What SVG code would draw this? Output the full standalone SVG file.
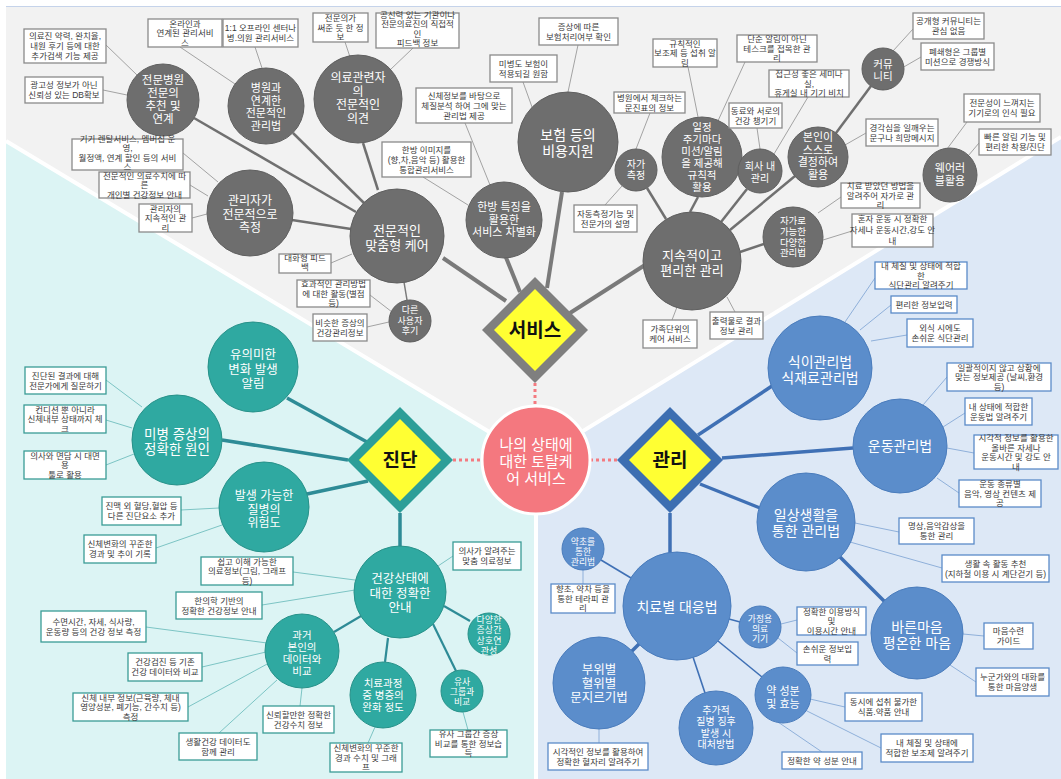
<svg xmlns="http://www.w3.org/2000/svg" width="1061" height="779" viewBox="0 0 1061 779">
<defs>
<style>
text{font-family:"Liberation Sans","Noto Sans CJK KR",sans-serif;text-anchor:middle}
.bt{font-size:8.5px;fill:#3a3a3a}
.nt{fill:#ffffff}
.gb{fill:#ffffff;stroke:#8a8a8a;stroke-width:1.3}
.tb{fill:#ffffff;stroke:#3a9c96;stroke-width:1.3}
.bb{fill:#ffffff;stroke:#5b8bc8;stroke-width:1.3}
.gn{fill:#6e6e6e;stroke:#5f5f5f;stroke-width:1}
.tn{fill:#2fa9a1;stroke:#279189;stroke-width:1}
.bn{fill:#5b8dcb;stroke:#4a7cbc;stroke-width:1}
.c{fill:none}
.gk{stroke:#7a7a7a;stroke-width:4}
.gm{stroke:#707070;stroke-width:2.5}
.gs{stroke:#7a7a7a;stroke-width:1.5}
.gt{stroke:#a3a3a3;stroke-width:1}
.tk{stroke:#2e8b96;stroke-width:3.5}
.tm{stroke:#2e8b96;stroke-width:2.2}
.tt{stroke:#7cc4c4;stroke-width:1}
.lk{stroke:#3f70b5;stroke-width:3.5}
.lm{stroke:#3f70b5;stroke-width:1.6}
.lt{stroke:#8fb0da;stroke-width:1}
.pd{stroke:#f47a80;stroke-width:3;stroke-dasharray:3 3}
.dl{font-size:19px;font-weight:bold;fill:#111}
</style>
</defs>
<g id="background">
<rect x="0" y="0" width="1061" height="779" fill="#ffffff"/>
<polygon points="6,7 1061,7 1061,137 536,460 6,141" fill="#f2f2f2"/>
<polygon points="6,141 536,460 536,779 6,779" fill="#dcf4f4"/>
<polygon points="1061,137 536,460 536,779 1061,779" fill="#dde8f6"/>
<polyline points="6,141 536,460 1061,137" fill="none" stroke="#ffffff" stroke-width="4"/>
<line x1="536" y1="460" x2="536" y2="779" stroke="#ffffff" stroke-width="4"/>
<line x1="6" y1="6.5" x2="1061" y2="6.5" stroke="#c5d3ea" stroke-width="1"/>
</g>
<g id="connectors" class="c">
<line class="pd" x1="535" y1="383" x2="535" y2="406"/>
<line class="pd" x1="453" y1="460" x2="482" y2="460"/>
<line class="pd" x1="590" y1="460" x2="617" y2="460"/>
<line class="gk" x1="443" y1="258" x2="506" y2="301"/>
<line class="gk" x1="505" y1="255" x2="520" y2="292"/>
<line class="gk" x1="562" y1="192" x2="547" y2="288"/>
<line class="gk" x1="570" y1="313" x2="645" y2="265"/>
<line class="gm" x1="363" y1="143" x2="378" y2="190"/>
<line class="gm" x1="293" y1="133" x2="364" y2="203"/>
<line class="gm" x1="292" y1="220" x2="351" y2="229"/>
<line class="gm" x1="194" y1="118" x2="356" y2="212"/>
<line class="gs" x1="404" y1="282" x2="407" y2="300"/>
<line class="gm" x1="647" y1="188" x2="666" y2="219"/>
<line class="gm" x1="698" y1="197" x2="690" y2="212"/>
<line class="gm" x1="747" y1="189" x2="721" y2="222"/>
<line class="gm" x1="795" y1="176" x2="730" y2="230"/>
<line class="gm" x1="764" y1="244" x2="740" y2="252"/>
<line class="gm" x1="836" y1="133" x2="871" y2="86"/>
<line class="gt" x1="106" y1="45" x2="137" y2="75"/>
<line class="gt" x1="103" y1="90" x2="127" y2="95"/>
<line class="gt" x1="180" y1="47" x2="235" y2="84"/>
<line class="gt" x1="255" y1="47" x2="262" y2="68"/>
<line class="gt" x1="345" y1="42" x2="350" y2="57"/>
<line class="gt" x1="413" y1="48" x2="390" y2="70"/>
<line class="gt" x1="523" y1="82" x2="532" y2="107"/>
<line class="gt" x1="578" y1="45" x2="568" y2="92"/>
<line class="gt" x1="465" y1="123" x2="490" y2="185"/>
<line class="gt" x1="423" y1="177" x2="468" y2="205"/>
<line class="gt" x1="183" y1="153" x2="218" y2="182"/>
<line class="gt" x1="190" y1="185" x2="208" y2="196"/>
<line class="gt" x1="192" y1="218" x2="207" y2="214"/>
<line class="gt" x1="331" y1="263" x2="352" y2="254"/>
<line class="gt" x1="370" y1="295" x2="392" y2="312"/>
<line class="gt" x1="367" y1="327" x2="389" y2="322"/>
<line class="gt" x1="650" y1="113" x2="636" y2="149"/>
<line class="gt" x1="605" y1="205" x2="622" y2="186"/>
<line class="gt" x1="688" y1="67" x2="698" y2="117"/>
<line class="gt" x1="745" y1="62" x2="717" y2="123"/>
<line class="gt" x1="808" y1="97" x2="774" y2="154"/>
<line class="gt" x1="757" y1="128" x2="760" y2="149"/>
<line class="gt" x1="913" y1="29" x2="893" y2="51"/>
<line class="gt" x1="921" y1="57" x2="902" y2="68"/>
<line class="gt" x1="967" y1="122" x2="947" y2="149"/>
<line class="gt" x1="979" y1="143" x2="968" y2="156"/>
<line class="gt" x1="866" y1="133" x2="845" y2="145"/>
<line class="gt" x1="841" y1="197" x2="818" y2="213"/>
<line class="gt" x1="852" y1="231" x2="823" y2="240"/>
<line class="gt" x1="672" y1="320" x2="677" y2="307"/>
<line class="gt" x1="735" y1="312" x2="727" y2="297"/>
<line class="tk" x1="287" y1="398" x2="367" y2="442"/>
<line class="tk" x1="222" y1="440" x2="348" y2="460"/>
<line class="tk" x1="307" y1="494" x2="368" y2="481"/>
<line class="tk" x1="400" y1="513" x2="400" y2="546"/>
<line class="tm" x1="361" y1="616" x2="334" y2="632"/>
<line class="tm" x1="388" y1="638" x2="385" y2="662"/>
<line class="tm" x1="433" y1="624" x2="456" y2="671"/>
<line class="tm" x1="444" y1="606" x2="470" y2="621"/>
<line class="tt" x1="106" y1="380" x2="142" y2="407"/>
<line class="tt" x1="106" y1="420" x2="132" y2="428"/>
<line class="tt" x1="106" y1="465" x2="134" y2="454"/>
<line class="tt" x1="181" y1="510" x2="219" y2="508"/>
<line class="tt" x1="156" y1="548" x2="222" y2="525"/>
<line class="tt" x1="293" y1="572" x2="355" y2="580"/>
<line class="tt" x1="262" y1="605" x2="355" y2="590"/>
<line class="tt" x1="453" y1="556" x2="438" y2="566"/>
<line class="tt" x1="146" y1="627" x2="267" y2="643"/>
<line class="tt" x1="202" y1="667" x2="266" y2="652"/>
<line class="tt" x1="188" y1="707" x2="269" y2="663"/>
<line class="tt" x1="219" y1="733" x2="277" y2="680"/>
<line class="tt" x1="300" y1="706" x2="302" y2="688"/>
<line class="tt" x1="368" y1="743" x2="375" y2="727"/>
<line class="tt" x1="468" y1="730" x2="463" y2="712"/>
<line class="lk" x1="698" y1="435" x2="772" y2="386"/>
<line class="lk" x1="722" y1="458" x2="853" y2="448"/>
<line class="lk" x1="700" y1="484" x2="760" y2="508"/>
<line class="lk" x1="670" y1="513" x2="670" y2="553"/>
<line class="lk" x1="840" y1="557" x2="885" y2="602"/>
<line class="lk" x1="640" y1="643" x2="631" y2="652"/>
<line class="lm" x1="601" y1="560" x2="631" y2="578"/>
<line class="lm" x1="693" y1="657" x2="705" y2="693"/>
<line class="lm" x1="729" y1="619" x2="740" y2="622"/>
<line class="lm" x1="718" y1="641" x2="762" y2="677"/>
<line class="lt" x1="875" y1="278" x2="845" y2="322"/>
<line class="lt" x1="891" y1="305" x2="860" y2="330"/>
<line class="lt" x1="907" y1="335" x2="871" y2="341"/>
<line class="lt" x1="947" y1="377" x2="923" y2="405"/>
<line class="lt" x1="965" y1="413" x2="943" y2="427"/>
<line class="lt" x1="974" y1="453" x2="947" y2="448"/>
<line class="lt" x1="959" y1="493" x2="937" y2="478"/>
<line class="lt" x1="899" y1="532" x2="855" y2="523"/>
<line class="lt" x1="942" y1="568" x2="850" y2="542"/>
<line class="lt" x1="984" y1="636" x2="963" y2="634"/>
<line class="lt" x1="976" y1="682" x2="950" y2="665"/>
<line class="lt" x1="797" y1="620" x2="781" y2="624"/>
<line class="lt" x1="797" y1="653" x2="778" y2="638"/>
<line class="lt" x1="845" y1="707" x2="810" y2="699"/>
<line class="lt" x1="881" y1="748" x2="805" y2="710"/>
<line class="lt" x1="822" y1="752" x2="775" y2="720"/>
<line class="lt" x1="583" y1="584" x2="583" y2="570"/>
<line class="lt" x1="599" y1="743" x2="599" y2="729"/>
</g>
<g id="center">
<circle cx="536" cy="460" r="54" fill="#f4787f" stroke="#ffffff" stroke-width="3"/>
<text class="nt" font-size="15"><tspan x="536" y="450">나의 상태에</tspan><tspan x="536" y="467">대한 토탈케</tspan><tspan x="536" y="484">어 서비스</tspan></text>
</g>
<g id="d-service">
<polygon points="535,277 588,330 535,383 482,330" fill="#7f7f7f"/>
<polygon points="535,289 576,330 535,371 494,330" fill="#ffff33"/>
<text class="dl" x="535" y="337">서비스</text>
</g>
<g id="d-diagnosis">
<polygon points="400,407 453,460 400,513 347,460" fill="#2c9e98"/>
<polygon points="400,419 441,460 400,501 359,460" fill="#ffff33"/>
<text class="dl" x="400" y="467">진단</text>
</g>
<g id="d-manage">
<polygon points="670,407 723,460 670,513 617,460" fill="#3d6eb1"/>
<polygon points="670,419 711,460 670,501 629,460" fill="#ffff33"/>
<text class="dl" x="670" y="467">관리</text>
</g>
<g id="g1"><circle class="gn" cx="163" cy="100" r="36"/><text class="nt" font-size="11.5"><tspan x="163" y="84">전문병원</tspan><tspan x="163" y="97">전문의</tspan><tspan x="163" y="110">추천 및</tspan><tspan x="163" y="123">연계</tspan></text></g>
<g id="g2"><circle class="gn" cx="266" cy="106" r="38"/><text class="nt" font-size="11"><tspan x="266" y="92">병원과</tspan><tspan x="266" y="104.5">연계한</tspan><tspan x="266" y="117">전문적인</tspan><tspan x="266" y="129.5">관리법</tspan></text></g>
<g id="g3"><circle class="gn" cx="358" cy="99" r="44"/><text class="nt" font-size="12"><tspan x="358" y="82">의료관련자</tspan><tspan x="358" y="95.5">의</tspan><tspan x="358" y="109">전문적인</tspan><tspan x="358" y="122.5">의견</tspan></text></g>
<g id="g4"><circle class="gn" cx="568" cy="142" r="50"/><text class="nt" font-size="14"><tspan x="568" y="140">보험 등의</tspan><tspan x="568" y="156">비용지원</tspan></text></g>
<g id="g5"><circle class="gn" cx="250" cy="213" r="43"/><text class="nt" font-size="12"><tspan x="250" y="205">관리자가</tspan><tspan x="250" y="218.5">전문적으로</tspan><tspan x="250" y="232">측정</tspan></text></g>
<g id="g6"><circle class="gn" cx="397" cy="236" r="47"/><text class="nt" font-size="13"><tspan x="397" y="235">전문적인</tspan><tspan x="397" y="250">맞춤형 케어</tspan></text></g>
<g id="g7"><circle class="gn" cx="504" cy="220" r="38"/><text class="nt" font-size="11"><tspan x="504" y="211">한방 특징을</tspan><tspan x="504" y="223.5">활용한</tspan><tspan x="504" y="236">서비스 차별화</tspan></text></g>
<g id="g8"><circle class="gn" cx="410" cy="321" r="21"/><text class="nt" font-size="9"><tspan x="410" y="313">다른</tspan><tspan x="410" y="323.5">사용자</tspan><tspan x="410" y="334">후기</tspan></text></g>
<g id="g9"><circle class="gn" cx="636" cy="170" r="21"/><text class="nt" font-size="10"><tspan x="636" y="167.5">자가</tspan><tspan x="636" y="179">측정</tspan></text></g>
<g id="g10"><circle class="gn" cx="702" cy="157" r="40"/><text class="nt" font-size="10.5"><tspan x="702" y="131">일정</tspan><tspan x="702" y="143">주기마다</tspan><tspan x="702" y="155">미션/알림</tspan><tspan x="702" y="167">을 제공해</tspan><tspan x="702" y="179">규칙적</tspan><tspan x="702" y="191">활용</tspan></text></g>
<g id="g11"><circle class="gn" cx="760" cy="171" r="22"/><text class="nt" font-size="10"><tspan x="760" y="170">회사 내</tspan><tspan x="760" y="181.5">관리</tspan></text></g>
<g id="g12"><circle class="gn" cx="818" cy="157" r="30"/><text class="nt" font-size="11"><tspan x="818" y="141">본인이</tspan><tspan x="818" y="153.5">스스로</tspan><tspan x="818" y="166">결정하여</tspan><tspan x="818" y="178.5">활용</tspan></text></g>
<g id="g13"><circle class="gn" cx="883" cy="69" r="21"/><text class="nt" font-size="10.5"><tspan x="883" y="68">커뮤</tspan><tspan x="883" y="80">니티</tspan></text></g>
<g id="g14"><circle class="gn" cx="950" cy="175" r="27"/><text class="nt" font-size="11"><tspan x="950" y="172">웨어러</tspan><tspan x="950" y="185">블활용</tspan></text></g>
<g id="g15"><circle class="gn" cx="793" cy="237" r="30"/><text class="nt" font-size="9.5"><tspan x="793" y="224">자가로</tspan><tspan x="793" y="234.8">가능한</tspan><tspan x="793" y="245.6">다양한</tspan><tspan x="793" y="256.4">관리법</tspan></text></g>
<g id="g16"><circle class="gn" cx="692" cy="261" r="49"/><text class="nt" font-size="13"><tspan x="692" y="260">지속적이고</tspan><tspan x="692" y="275">편리한  관리</tspan></text></g>
<g id="t1"><circle class="tn" cx="253" cy="367" r="45"/><text class="nt" font-size="12.5"><tspan x="253" y="359">유의미한</tspan><tspan x="253" y="373.5">변화 발생</tspan><tspan x="253" y="388">알림</tspan></text></g>
<g id="t2"><circle class="tn" cx="177" cy="440" r="45"/><text class="nt" font-size="13.5"><tspan x="177" y="438.5">미병 증상의</tspan><tspan x="177" y="454">정확한 원인</tspan></text></g>
<g id="t3"><circle class="tn" cx="264" cy="507" r="45"/><text class="nt" font-size="12"><tspan x="264" y="500">발생 가능한</tspan><tspan x="264" y="513.5">질병의</tspan><tspan x="264" y="527">위험도</tspan></text></g>
<g id="t4"><circle class="tn" cx="400" cy="592" r="46"/><text class="nt" font-size="12.5"><tspan x="400" y="583">건강상태에</tspan><tspan x="400" y="597.5">대한 정확한</tspan><tspan x="400" y="612">안내</tspan></text></g>
<g id="t5"><circle class="tn" cx="302" cy="651" r="37"/><text class="nt" font-size="10.5"><tspan x="302" y="639">과거</tspan><tspan x="302" y="651">본인의</tspan><tspan x="302" y="663">데이터와</tspan><tspan x="302" y="675">비교</tspan></text></g>
<g id="t6"><circle class="tn" cx="383" cy="695" r="33"/><text class="nt" font-size="10.5"><tspan x="383" y="687">치료과정</tspan><tspan x="383" y="699">중 병증의</tspan><tspan x="383" y="711">완화 정도</tspan></text></g>
<g id="t7"><circle class="tn" cx="489" cy="634" r="21"/><text class="nt" font-size="9"><tspan x="489" y="623">다양한</tspan><tspan x="489" y="633.3">증상간</tspan><tspan x="489" y="643.6">상호연</tspan><tspan x="489" y="653.9">관성</tspan></text></g>
<g id="t8"><circle class="tn" cx="462" cy="691" r="21"/><text class="nt" font-size="8.8"><tspan x="462" y="685">유사</tspan><tspan x="462" y="695">그룹과</tspan><tspan x="462" y="705">비교</tspan></text></g>
<g id="l1"><circle class="bn" cx="820" cy="368" r="52"/><text class="nt" font-size="14"><tspan x="820" y="367">식이관리법</tspan><tspan x="820" y="383">식재료관리법</tspan></text></g>
<g id="l2"><circle class="bn" cx="900" cy="446" r="47"/><text class="nt" font-size="14" x="900" y="451">운동관리법</text></g>
<g id="l3"><circle class="bn" cx="806" cy="522" r="49"/><text class="nt" font-size="14"><tspan x="806" y="520">일상생활을</tspan><tspan x="806" y="536">통한 관리법</tspan></text></g>
<g id="l4"><circle class="bn" cx="677" cy="606" r="54"/><text class="nt" font-size="14" x="677" y="612">치료별 대응법</text></g>
<g id="l5"><circle class="bn" cx="917" cy="633" r="46"/><text class="nt" font-size="14"><tspan x="917" y="632">바른마음</tspan><tspan x="917" y="647.7">평온한 마음</tspan></text></g>
<g id="l6"><circle class="bn" cx="599" cy="683" r="46"/><text class="nt" font-size="12.5"><tspan x="599" y="674">부위별</tspan><tspan x="599" y="688">혈위별</tspan><tspan x="599" y="702">문지르기법</tspan></text></g>
<g id="l7"><circle class="bn" cx="716" cy="728" r="37"/><text class="nt" font-size="10"><tspan x="716" y="714">추가적</tspan><tspan x="716" y="725.3">질병 징후</tspan><tspan x="716" y="736.6">발생 시</tspan><tspan x="716" y="747.9">대처방법</tspan></text></g>
<g id="l8"><circle class="bn" cx="783" cy="695" r="28"/><text class="nt" font-size="11"><tspan x="783" y="695">약 성분</tspan><tspan x="783" y="708">및 효능</tspan></text></g>
<g id="l9"><circle class="bn" cx="760" cy="627" r="21"/><text class="nt" font-size="8.8"><tspan x="760" y="621.5">가정용</tspan><tspan x="760" y="631.5">의료</tspan><tspan x="760" y="641.5">기기</tspan></text></g>
<g id="l10"><circle class="bn" cx="583" cy="549" r="21"/><text class="nt" font-size="8.8"><tspan x="583" y="545">약초를</tspan><tspan x="583" y="555">통한</tspan><tspan x="583" y="565">관리법</tspan></text></g>
<g id="gb1"><rect class="gb" x="24" y="29" width="82" height="34"/><text class="bt"><tspan x="65" y="39">의료진 약력, 완치율,</tspan><tspan x="65" y="49">내원 후기 등에 대한</tspan><tspan x="65" y="59">추가검색 기능 제공</tspan></text></g>
<g id="gb2"><rect class="gb" x="25" y="77" width="78" height="26"/><text class="bt"><tspan x="64" y="88">광고성 정보가 아닌</tspan><tspan x="64" y="98">신뢰성 있는 DB확보</tspan></text></g>
<g id="gb3"><rect class="gb" x="148" y="19" width="74" height="28"/><text class="bt"><tspan x="185" y="26.5">온라인과</tspan><tspan x="185" y="36">연계된 관리서비</tspan><tspan x="185" y="45.5">스</tspan></text></g>
<g id="gb4"><rect class="gb" x="223" y="19" width="75" height="28"/><text class="bt"><tspan x="260.5" y="31">1:1 오프라인 센터나</tspan><tspan x="260.5" y="41">병.의원 관리서비스</tspan></text></g>
<g id="gb5"><rect class="gb" x="313" y="13" width="55" height="29"/><text class="bt"><tspan x="340.5" y="21">전문의가</tspan><tspan x="340.5" y="30.5">써준 듯 한 정</tspan><tspan x="340.5" y="40">보</tspan></text></g>
<g id="gb6"><rect class="gb" x="376" y="13" width="83" height="35"/><text class="bt"><tspan x="417.5" y="17.5">공신력 있는 기관이나</tspan><tspan x="417.5" y="27">전문의료진의 직접적</tspan><tspan x="417.5" y="36.5">인</tspan><tspan x="417.5" y="46">피드백 정보</tspan></text></g>
<g id="gb7"><rect class="gb" x="490" y="55" width="67" height="27"/><text class="bt"><tspan x="523.5" y="66.5">미병도 보험이</tspan><tspan x="523.5" y="76.5">적용되길 원함</tspan></text></g>
<g id="gb8"><rect class="gb" x="539" y="18" width="79" height="27"/><text class="bt"><tspan x="578.5" y="29.5">증상에 따른</tspan><tspan x="578.5" y="39.5">보험처리여부 확인</tspan></text></g>
<g id="gb9"><rect class="gb" x="416" y="88" width="96" height="35"/><text class="bt"><tspan x="464" y="99">신체정보를 바탕으로</tspan><tspan x="464" y="109">체질분석 하여 그에 맞는</tspan><tspan x="464" y="119">관리법 제공</tspan></text></g>
<g id="gb10"><rect class="gb" x="382" y="142" width="89" height="35"/><text class="bt"><tspan x="426.5" y="153">한방 이미지를</tspan><tspan x="426.5" y="163">(향,차,음악 등) 활용한</tspan><tspan x="426.5" y="173">통합관리서비스</tspan></text></g>
<g id="gb11"><rect class="gb" x="72" y="139" width="111" height="31"/><text class="bt"><tspan x="127.5" y="141.5">기기 렌탈서비스, 멤버십 운</tspan><tspan x="127.5" y="151">영,</tspan><tspan x="127.5" y="160.5">월정액, 연계 할인 등의 서비</tspan><tspan x="127.5" y="170">스</tspan></text></g>
<g id="gb12"><rect class="gb" x="99" y="172" width="91" height="26"/><text class="bt"><tspan x="144.5" y="178.5">전문적인 의료수치에 따</tspan><tspan x="144.5" y="188">른</tspan><tspan x="144.5" y="197.5">개인별 건강정보 안내</tspan></text></g>
<g id="gb13"><rect class="gb" x="139" y="204" width="53" height="28"/><text class="bt"><tspan x="165.5" y="211.5">관리자의</tspan><tspan x="165.5" y="221">지속적인 관</tspan><tspan x="165.5" y="230.5">리</tspan></text></g>
<g id="gb14"><rect class="gb" x="279" y="254" width="52" height="19"/><text class="bt"><tspan x="305" y="260.5">대화형 피드</tspan><tspan x="305" y="270">백</tspan></text></g>
<g id="gb15"><rect class="gb" x="297" y="280" width="73" height="27"/><text class="bt"><tspan x="333.5" y="287">효과적인 관리방법</tspan><tspan x="333.5" y="296.5">에 대한 활동(별점</tspan><tspan x="333.5" y="306">등)</tspan></text></g>
<g id="gb16"><rect class="gb" x="313" y="314" width="54" height="27"/><text class="bt"><tspan x="340" y="325.5">비슷한 증상의</tspan><tspan x="340" y="335.5">건강관리정보</tspan></text></g>
<g id="gb17"><rect class="gb" x="614" y="92" width="71" height="21"/><text class="bt"><tspan x="649.5" y="101">병원에서 체크하는</tspan><tspan x="649.5" y="110.5">문진표의 정보</tspan></text></g>
<g id="gb18"><rect class="gb" x="574" y="205" width="63" height="27"/><text class="bt"><tspan x="605.5" y="216.5">자동측정기능 및</tspan><tspan x="605.5" y="226.5">전문가의 설명</tspan></text></g>
<g id="gb19"><rect class="gb" x="653" y="39" width="64" height="28"/><text class="bt"><tspan x="685" y="46.5">규칙적인</tspan><tspan x="685" y="56">보조제 등 섭취 알</tspan><tspan x="685" y="65.5">림</tspan></text></g>
<g id="gb20"><rect class="gb" x="737" y="35" width="80" height="27"/><text class="bt"><tspan x="777" y="42">단순 알림이 아닌</tspan><tspan x="777" y="51.5">테스크를 접목한 관</tspan><tspan x="777" y="61">리</tspan></text></g>
<g id="gb21"><rect class="gb" x="769" y="70" width="80" height="27"/><text class="bt"><tspan x="809" y="77">접근성 좋은 세미나</tspan><tspan x="809" y="86.5">실,</tspan><tspan x="809" y="96">휴게실 내 기기 비치</tspan></text></g>
<g id="gb22"><rect class="gb" x="729" y="103" width="53" height="25"/><text class="bt"><tspan x="755.5" y="113.5">동료와 서로의</tspan><tspan x="755.5" y="123.5">건강 챙기기</tspan></text></g>
<g id="gb23"><rect class="gb" x="913" y="13" width="71" height="26"/><text class="bt"><tspan x="948.5" y="24">공개형 커뮤니티는</tspan><tspan x="948.5" y="34">관심 없음</tspan></text></g>
<g id="gb24"><rect class="gb" x="921" y="43" width="73" height="27"/><text class="bt"><tspan x="957.5" y="54.5">폐쇄형은 그룹별</tspan><tspan x="957.5" y="64.5">미션으로 경쟁방식</tspan></text></g>
<g id="gb25"><rect class="gb" x="964" y="94" width="76" height="28"/><text class="bt"><tspan x="1002" y="106">전문성이 느껴지는</tspan><tspan x="1002" y="116">기기로의 인식 필요</tspan></text></g>
<g id="gb26"><rect class="gb" x="979" y="129" width="72" height="26"/><text class="bt"><tspan x="1015" y="140">빠른 알림 기능 및</tspan><tspan x="1015" y="150">편리한 착용/진단</tspan></text></g>
<g id="gb27"><rect class="gb" x="866" y="119" width="72" height="27"/><text class="bt"><tspan x="902" y="130.5">경각심을 일깨우는</tspan><tspan x="902" y="140.5">문구나 희망메시지</tspan></text></g>
<g id="gb28"><rect class="gb" x="841" y="183" width="79" height="25"/><text class="bt"><tspan x="880.5" y="189">치료 받았던 방법을</tspan><tspan x="880.5" y="198.5">알려주어 자가로 관</tspan><tspan x="880.5" y="208">리</tspan></text></g>
<g id="gb29"><rect class="gb" x="852" y="214" width="81" height="33"/><text class="bt"><tspan x="892.5" y="222">혼자 운동 시 정확한</tspan><tspan x="892.5" y="233">자세나 운동시간,강도 안</tspan><tspan x="892.5" y="243.5">내</tspan></text></g>
<g id="gb30"><rect class="gb" x="643" y="320" width="54" height="28"/><text class="bt"><tspan x="670" y="332">가족단위의</tspan><tspan x="670" y="342">케어 서비스</tspan></text></g>
<g id="gb31"><rect class="gb" x="710" y="312" width="53" height="27"/><text class="bt"><tspan x="736.5" y="323.5">출력물로 결과</tspan><tspan x="736.5" y="333.5">정보 관리</tspan></text></g>
<g id="tb1"><rect class="tb" x="25" y="367" width="81" height="27"/><text class="bt"><tspan x="65.5" y="378.5">진단된 결과에 대해</tspan><tspan x="65.5" y="388.5">전문가에게 질문하기</tspan></text></g>
<g id="tb2"><rect class="tb" x="24" y="405" width="82" height="28"/><text class="bt"><tspan x="65" y="412.5">컨디션 뿐 아니라</tspan><tspan x="65" y="422">신체내부 상태까지 체</tspan><tspan x="65" y="431.5">크</tspan></text></g>
<g id="tb3"><rect class="tb" x="24" y="451" width="82" height="28"/><text class="bt"><tspan x="65" y="458.5">의사와 면담 시 대면</tspan><tspan x="65" y="468">용</tspan><tspan x="65" y="477.5">툴로 활용</tspan></text></g>
<g id="tb4"><rect class="tb" x="102" y="497" width="79" height="28"/><text class="bt"><tspan x="141.5" y="509">진맥 외 혈당,혈압 등</tspan><tspan x="141.5" y="519">다른 진단요소 추가</tspan></text></g>
<g id="tb5"><rect class="tb" x="84" y="535" width="72" height="28"/><text class="bt"><tspan x="120" y="547">신체변화의 꾸준한</tspan><tspan x="120" y="557">경과 및 추이 기록</tspan></text></g>
<g id="tb6"><rect class="tb" x="201" y="557" width="92" height="28"/><text class="bt"><tspan x="247" y="564.5">쉽고 이해 가능한</tspan><tspan x="247" y="574">의료정보(그림, 그래프</tspan><tspan x="247" y="583.5">등)</tspan></text></g>
<g id="tb7"><rect class="tb" x="176" y="592" width="86" height="27"/><text class="bt"><tspan x="219" y="603.5">한의학 기반의</tspan><tspan x="219" y="613.5">정확한 건강정보 안내</tspan></text></g>
<g id="tb8"><rect class="tb" x="41" y="611" width="105" height="31"/><text class="bt"><tspan x="93.5" y="624.5">수면시간, 자세, 식사량,</tspan><tspan x="93.5" y="634.5">운동량 등의 건강 정보 측정</tspan></text></g>
<g id="tb9"><rect class="tb" x="128" y="653" width="74" height="28"/><text class="bt"><tspan x="165" y="665">건강검진 등 기존</tspan><tspan x="165" y="675">건강 데이터와 비교</tspan></text></g>
<g id="tb10"><rect class="tb" x="73" y="693" width="115" height="28"/><text class="bt"><tspan x="130.5" y="700.5">신체 내부 정보(근육량, 체내</tspan><tspan x="130.5" y="710">영양성분, 폐기능, 간수치 등)</tspan><tspan x="130.5" y="719.5">측정</tspan></text></g>
<g id="tb11"><rect class="tb" x="179" y="733" width="78" height="27"/><text class="bt"><tspan x="218" y="744.5">생활건강 데이터도</tspan><tspan x="218" y="754.5">함께 관리</tspan></text></g>
<g id="tb12"><rect class="tb" x="263" y="706" width="71" height="27"/><text class="bt"><tspan x="298.5" y="717.5">신뢰할만한 정확한</tspan><tspan x="298.5" y="727.5">건강수치 정보</tspan></text></g>
<g id="tb13"><rect class="tb" x="330" y="743" width="72" height="29"/><text class="bt"><tspan x="366" y="751">신체변화의 꾸준한</tspan><tspan x="366" y="760.5">경과 수치 및 그래</tspan><tspan x="366" y="770">프</tspan></text></g>
<g id="tb14"><rect class="tb" x="430" y="730" width="77" height="27"/><text class="bt"><tspan x="468.5" y="737">유사 그룹간 증상</tspan><tspan x="468.5" y="746.5">비교를 통한 정보습</tspan><tspan x="468.5" y="756">득</tspan></text></g>
<g id="tb15"><rect class="tb" x="453" y="542" width="68" height="28"/><text class="bt"><tspan x="487" y="554">의사가 알려주는</tspan><tspan x="487" y="564">맞춤 의료정보</tspan></text></g>
<g id="bb1"><rect class="bb" x="875" y="262" width="92" height="27"/><text class="bt"><tspan x="921" y="269">내 체질 및 상태에 적합</tspan><tspan x="921" y="278.5">한</tspan><tspan x="921" y="288">식단관리 알려주기</tspan></text></g>
<g id="bb2"><rect class="bb" x="891" y="296" width="66" height="17"/><text class="bt" x="924" y="307.5">편리한 정보입력</text></g>
<g id="bb3"><rect class="bb" x="907" y="319" width="66" height="28"/><text class="bt"><tspan x="940" y="331">외식 시에도</tspan><tspan x="940" y="341">손쉬운 식단관리</tspan></text></g>
<g id="bb4"><rect class="bb" x="947" y="363" width="104" height="28"/><text class="bt"><tspan x="999" y="370.5">일괄적이지 않고 상황에</tspan><tspan x="999" y="380">맞는 정보제공 (날씨,환경</tspan><tspan x="999" y="389.5">등)</tspan></text></g>
<g id="bb5"><rect class="bb" x="965" y="398" width="67" height="27"/><text class="bt"><tspan x="998.5" y="409.5">내 상태에 적합한</tspan><tspan x="998.5" y="419.5">운동법 알려주기</tspan></text></g>
<g id="bb6"><rect class="bb" x="974" y="435" width="84" height="34"/><text class="bt"><tspan x="1016" y="441">시각적 정보를 활용한</tspan><tspan x="1016" y="450.5">올바른 자세나</tspan><tspan x="1016" y="460">운동시간 및 강도 안</tspan><tspan x="1016" y="469.5">내</tspan></text></g>
<g id="bb7"><rect class="bb" x="959" y="480" width="82" height="27"/><text class="bt"><tspan x="1000" y="487">운동 종류별</tspan><tspan x="1000" y="496.5">음악, 영상 컨텐츠 제</tspan><tspan x="1000" y="506">공</tspan></text></g>
<g id="bb8"><rect class="bb" x="899" y="518" width="75" height="26"/><text class="bt"><tspan x="936.5" y="529">명상,음악감상을</tspan><tspan x="936.5" y="539">통한 관리</tspan></text></g>
<g id="bb9"><rect class="bb" x="942" y="555" width="107" height="27"/><text class="bt"><tspan x="995.5" y="566.5">생활 속 활동 추천</tspan><tspan x="995.5" y="576.5">(지하철 이용 시 계단걷기 등)</tspan></text></g>
<g id="bb10"><rect class="bb" x="984" y="623" width="49" height="26"/><text class="bt"><tspan x="1008.5" y="634">마음수련</tspan><tspan x="1008.5" y="644">가이드</tspan></text></g>
<g id="bb11"><rect class="bb" x="976" y="668" width="73" height="28"/><text class="bt"><tspan x="1012.5" y="680">누군가와의 대화를</tspan><tspan x="1012.5" y="690">통한  마음양생</tspan></text></g>
<g id="bb12"><rect class="bb" x="797" y="607" width="69" height="28"/><text class="bt"><tspan x="831.5" y="614.5">정확한 이용방식</tspan><tspan x="831.5" y="624">및</tspan><tspan x="831.5" y="633.5">이용시간 안내</tspan></text></g>
<g id="bb13"><rect class="bb" x="797" y="642" width="61" height="23"/><text class="bt"><tspan x="827.5" y="652">손쉬운 정보입</tspan><tspan x="827.5" y="661.5">력</tspan></text></g>
<g id="bb14"><rect class="bb" x="845" y="693" width="77" height="28"/><text class="bt"><tspan x="883.5" y="705">동시에 섭취 불가한</tspan><tspan x="883.5" y="715">식품.약품 안내</tspan></text></g>
<g id="bb15"><rect class="bb" x="881" y="734" width="92" height="28"/><text class="bt"><tspan x="927" y="746">내 체질 및 상태에</tspan><tspan x="927" y="756">적합한 보조제 알려주기</tspan></text></g>
<g id="bb16"><rect class="bb" x="782" y="752" width="80" height="17"/><text class="bt" x="822" y="763.5">정확한 약 성분 안내</text></g>
<g id="bb17"><rect class="bb" x="551" y="584" width="64" height="29"/><text class="bt"><tspan x="583" y="592">향초, 약차 등을</tspan><tspan x="583" y="601.5">통한 테라피 관</tspan><tspan x="583" y="611">리</tspan></text></g>
<g id="bb18"><rect class="bb" x="548" y="743" width="100" height="27"/><text class="bt"><tspan x="598" y="754.5">시각적인 정보를 활용하여</tspan><tspan x="598" y="764.5">정확한 혈자리 알려주기</tspan></text></g>
</svg>
